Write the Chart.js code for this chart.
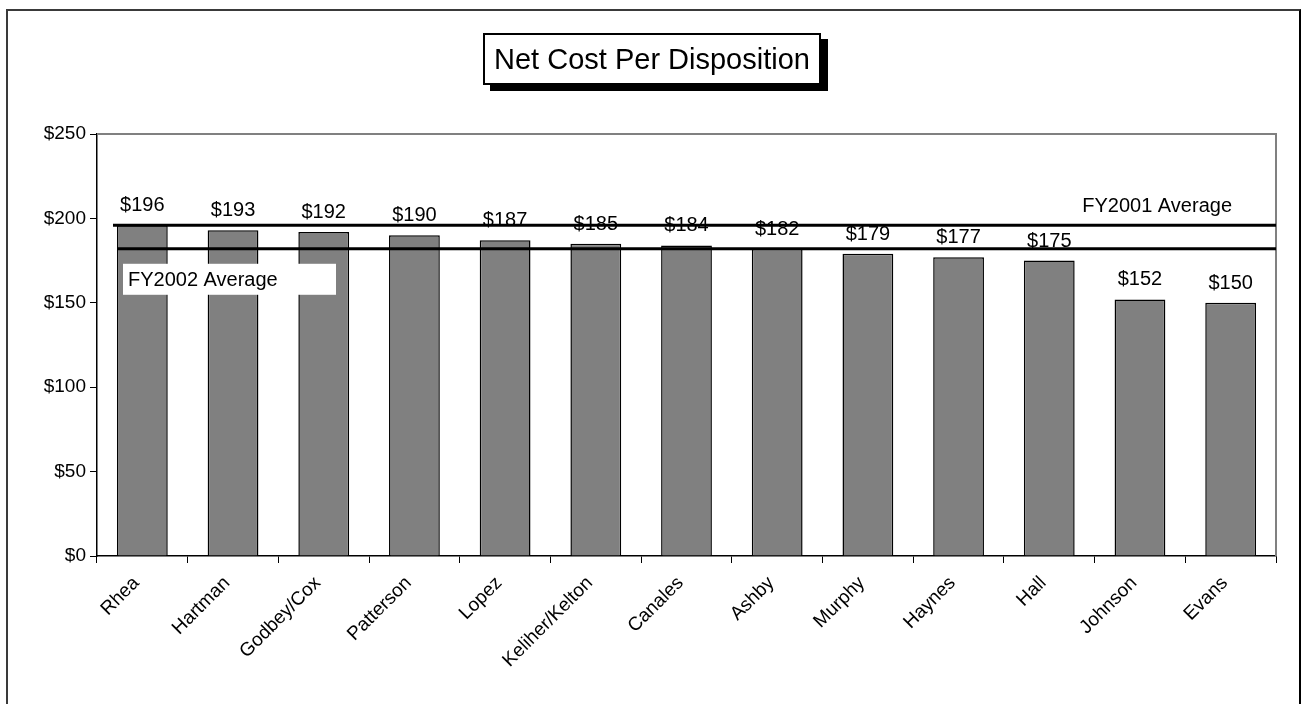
<!DOCTYPE html>
<html lang="en">
<head>
    <meta charset="UTF-8">
    <title>Net Cost Per Disposition</title>
    <script src="https://cdn.jsdelivr.net/npm/chart.js"></script>
    <style>
        html, body { margin: 0; padding: 0; background: #fff; }
        body { width: 1301px; height: 704px; position: relative; overflow: hidden; font-family: 'Liberation Sans', Arial, sans-serif; }
        #frame { position: absolute; left: 6px; top: 9px; width: 1291px; height: 720px; border: 2px solid #3a3a3a; border-right-color: #000; }
        #title { position: absolute; left: 483px; top: 33px; width: 334px; height: 48px; border: 2px solid #000; background: #fff;
                 box-shadow: 7px 6px 0 #000; font-size: 29px; line-height: 48px; text-align: center; color: #000; white-space: nowrap; }
        canvas { position: absolute; left: 0; top: 0; }
    </style>
</head>
<body>
    <div id="frame"></div>
    <canvas id="costChart" width="1301" height="704"></canvas>
    <div id="title">Net Cost Per Disposition</div>

    <script>
        const judges = ['Rhea', 'Hartman', 'Godbey/Cox', 'Patterson', 'Lopez', 'Keliher/Kelton', 'Canales', 'Ashby', 'Murphy', 'Haynes', 'Hall', 'Johnson', 'Evans'];
        const netCost = [196, 193, 192, 190, 187, 185, 184, 182, 179, 177, 175, 152, 150];
        const averageNames = ['FY2001 Average', 'FY2002 Average'];
        const averageValues = [196, 182];
        const yTicks = [0, 50, 100, 150, 200, 250];

        const FONT = "'Liberation Sans', Arial, sans-serif";

        const overlay = {
            id: 'overlay',
            afterDatasetsDraw(chart) {
                const { ctx, chartArea: a, scales: { y } } = chart;
                const bars = chart.getDatasetMeta(0).data;
                ctx.save();

                // plot border (top / right)
                ctx.strokeStyle = '#808080';
                ctx.lineWidth = 2;
                ctx.beginPath();
                ctx.moveTo(a.left, a.top);
                ctx.lineTo(a.right, a.top);
                ctx.lineTo(a.right, a.bottom);
                ctx.stroke();

                // value labels
                ctx.fillStyle = '#000';
                ctx.font = '20px ' + FONT;
                ctx.textAlign = 'center';
                ctx.textBaseline = 'alphabetic';
                bars.forEach((bar, i) => {
                    ctx.fillText('$' + netCost[i], bar.x, bar.y - 14);
                });

                // FY2002 label box
                const y02 = y.getPixelForValue(averageValues[1]);
                ctx.fillStyle = '#fff';
                ctx.fillRect(a.left + 26, y02 + 15, 213, 31);
                ctx.fillStyle = '#000';
                ctx.font = '20px ' + FONT;
                ctx.textAlign = 'left';
                ctx.fillText(averageNames[1], a.left + 31, y02 + 37);

                // average lines
                ctx.strokeStyle = '#000';
                ctx.lineWidth = 3;
                averageValues.forEach((v, i) => {
                    const py = y.getPixelForValue(v);
                    ctx.beginPath();
                    ctx.moveTo(a.left + (i === 0 ? 16 : 20), py);
                    ctx.lineTo(a.right, py);
                    ctx.stroke();
                });

                // FY2001 label
                const y01 = y.getPixelForValue(averageValues[0]);
                ctx.textAlign = 'right';
                ctx.fillText(averageNames[0], a.right - 44, y01 - 13);

                ctx.restore();
            }
        };

        new Chart(document.getElementById('costChart'), {
            type: 'bar',
            data: {
                labels: judges,
                datasets: [{
                    data: netCost,
                    backgroundColor: '#808080',
                    borderColor: '#000',
                    borderWidth: 1.5,
                    barPercentage: 0.56,
                    categoryPercentage: 1
                }]
            },
            options: {
                responsive: false,
                animation: false,
                layout: { padding: { left: 0, top: 134, right: 25, bottom: 0 } },
                plugins: { legend: { display: false }, tooltip: { enabled: false } },
                scales: {
                    x: {
                        grid: { drawOnChartArea: false, drawTicks: true, tickLength: 7, color: '#000', offset: true },
                        border: { color: '#000', width: 1.5 },
                        ticks: { minRotation: 45, maxRotation: 45, color: '#000', padding: 9, labelOffset: -6, font: { family: FONT, size: 19 } },
                        afterFit: (s) => { s.height = 148; }
                    },
                    y: {
                        min: 0,
                        max: 250,
                        afterBuildTicks: (s) => { s.ticks = yTicks.map(v => ({ value: v })); },
                        grid: { drawOnChartArea: false, drawTicks: true, tickLength: 7, color: '#000' },
                        border: { color: '#000', width: 1.5 },
                        ticks: { color: '#000', padding: 4, font: { family: FONT, size: 19 }, callback: (v) => '$' + v },
                        afterFit: (s) => { s.width = 97; }
                    }
                }
            },
            plugins: [overlay]
        });
    </script>
</body>
</html>
